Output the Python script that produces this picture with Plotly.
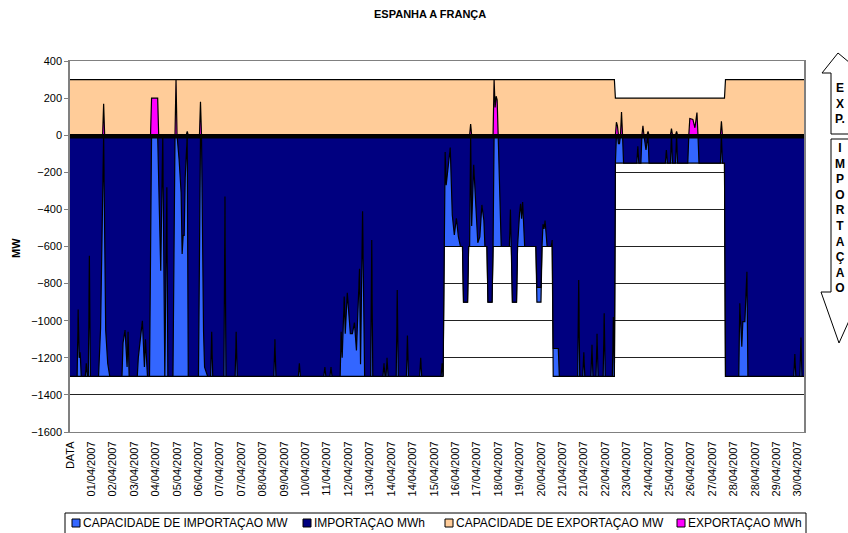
import plotly.graph_objects as go

# hour index 0 = "DATA" header row, then 720 hours of April 2007
tick_labels = [
    "DATA", "01/04/2007", "02/04/2007", "03/04/2007", "04/04/2007", "05/04/2007",
    "06/04/2007", "07/04/2007", "07/04/2007", "08/04/2007", "09/04/2007",
    "10/04/2007", "11/04/2007", "12/04/2007", "13/04/2007", "14/04/2007",
    "14/04/2007", "15/04/2007", "16/04/2007", "17/04/2007", "18/04/2007",
    "19/04/2007", "20/04/2007", "21/04/2007", "21/04/2007", "22/04/2007",
    "23/04/2007", "24/04/2007", "25/04/2007", "26/04/2007", "27/04/2007",
    "28/04/2007", "28/04/2007", "29/04/2007", "30/04/2007",
]
tick_hours = [21 * i for i in range(len(tick_labels))]

# capacidade de importacao (MW), step vertices
cap_imp_hours = [0, 366, 367, 385, 386, 390, 391, 409, 410, 414, 415, 433, 434, 438,
                 439, 457, 458, 462, 463, 473, 474, 534, 535, 642, 643, 720]
cap_imp_mw = [-1300, -1300, -600, -600, -900, -900, -600, -600, -900, -900, -600, -600,
              -900, -900, -600, -600, -900, -900, -600, -600, -1300, -1300, -150, -150,
              -1300, -1300]

# capacidade de exportacao (MW)
cap_exp_hours = [0, 534, 535, 642, 643, 720]
cap_exp_mw = [300, 300, 200, 200, 300, 300]

# importacao (MWh), vertices of the hourly line
imp_hours = [
    0, 7, 8, 9, 10, 11, 15, 16, 17, 18, 19, 20,
    28, 30, 33, 35, 37, 39,
    51, 52, 54, 56, 57, 58,
    66, 67, 71, 73, 74, 76,
    78, 80, 86, 89, 91, 93, 95, 96,
    101, 103, 105, 107, 109, 110, 111, 112, 113, 115, 116,
    126, 128, 129, 131, 132, 135,
    138, 139, 140, 151, 152, 153, 162, 163, 164,
    200, 201, 202, 224, 225, 226, 249, 250, 251, 255, 256, 257,
    265, 266, 267, 269, 270, 272, 275, 277, 279, 281, 284, 285, 287, 289,
    295, 296, 297, 307, 308, 309, 310, 311, 312, 320, 321, 322,
    330, 331, 332, 343, 344, 345, 364, 365, 366,
    367, 368, 369, 371, 373, 375, 377, 379, 381, 383, 385,
    386, 390, 391, 392, 393, 394, 396, 398, 400, 402, 404, 406, 407, 409,
    410, 414, 415, 416, 420, 423,
    431, 432, 433, 434, 438, 439, 441, 442, 443, 444, 446,
    457, 458, 462, 463, 464, 465, 466, 468, 472, 473, 474, 479, 480,
    498, 499, 500, 503, 504, 505, 511, 512, 513, 516, 517, 518,
    523, 524, 525, 532, 533, 534,
    535, 536, 537, 538, 539, 540, 542, 543,
    556, 557, 558, 560, 561, 563, 565, 567, 568,
    584, 585, 586, 589, 590, 591, 594, 595, 596,
    606, 607, 616, 617, 638, 639, 640, 642, 643,
    656, 657, 659, 660, 662, 664, 665,
    710, 711, 712, 716, 717, 718, 720,
]
imp_mw = [
    -1300, -1300, -940, -1200, -1170, -1300, -1300, -1230, -1300, -1300, -650, -1300,
    -1300, -1040, 0, -1050, -1230, -1300,
    -1300, -1120, -1050, -1250, -1060, -1300,
    -1300, -1200, -1000, -1250, -1100, -1300,
    -1300, 0, 0, -730, 0, -1300, -280, -1300,
    -1300, 0, 0, -130, -310, -640, -540, -540, -230, 0, -1300,
    -1300, 0, 0, -1060, -1250, -1300,
    -1300, -1060, -1300, -1300, -330, -1300, -1300, -1060, -1300,
    -1300, -1100, -1300, -1300, -1230, -1300, -1300, -1250, -1300, -1300, -1250, -1300,
    -1300, -1060, -1200, -870, -1070, -850, -1070, -1070, -1010, -1160, -720, -1235, -410, -1300,
    -1300, -565, -1300, -1300, -1230, -1300, -1300, -1200, -1300, -1300, -835, -1300,
    -1300, -1080, -1300, -1300, -1200, -1300, -1300, -1230, -1300,
    -600, -90, -270, -170, -66, -430, -538, -448, -548, -600, -600,
    -900, -900, -600, -600, 0, -490, -160, -370, -580, -548, -376, -460, -600, -600,
    -900, -900, -600, 0, 0, -600,
    -600, -400, -600, -900, -900, -600, -420, -370, -450, -360, -600,
    -600, -820, -820, -600, -480, -505, -460, -600, -600, -565, -1150, -1150, -1300,
    -1300, -780, -1300, -1300, -1170, -1300, -1300, -1130, -1300, -1300, -1070, -1300,
    -1300, -960, -1300, -1300, -980, -1300,
    -150, 0, 0, -45, -45, 0, 0, -150,
    -150, -60, -150, -150, 0, 0, -80, 0, -150,
    -150, -80, -150, -150, 0, -150, -150, 0, -150,
    -150, 0, 0, -150, -150, 0, -150, -150, -1300,
    -1300, -906, -1140, -1005, -1005, -736, -1300,
    -1300, -1180, -1300, -1300, -1090, -1300, -1300,
]

# exportacao (MWh)
exp_hours = [0, 32, 33, 34, 79, 80, 86, 87, 103, 104, 105, 114, 115, 116, 127, 128, 129,
             392, 393, 394, 415, 416, 417, 418, 419, 420,
             535, 536, 537, 538, 540, 541, 542, 561, 562, 563, 566, 567, 568,
             589, 590, 591, 594, 595, 596, 607, 608, 611, 613, 615, 616,
             638, 639, 640, 720]
exp_mw = [0, 0, 170, 0, 0, 200, 200, 0, 0, 300, 0, 0, 20, 0, 0, 180, 0,
          0, 60, 0, 0, 300, 150, 210, 190, 0,
          0, 70, 50, 0, 0, 125, 0, 0, 50, 0, 0, 20, 0,
          0, 35, 0, 0, 20, 0, 0, 90, 85, 40, 122, 0,
          0, 75, 0, 0]

series_names = ["CAPACIDADE DE IMPORTAÇAO MW", "IMPORTAÇAO MWh",
                "CAPACIDADE DE EXPORTAÇAO MW", "EXPORTAÇAO MWh"]
series_colors = ["#3366FF", "#000080", "#FFCC99", "#FF00FF"]

FONT = "Liberation Sans, Arial, sans-serif"

fig = go.Figure()
for xs, ys, name, col in zip([cap_imp_hours, imp_hours, cap_exp_hours, exp_hours],
                             [cap_imp_mw, imp_mw, cap_exp_mw, exp_mw],
                             series_names, series_colors):
    fig.add_trace(go.Scatter(
        x=xs, y=ys, name=name, mode="lines", fill="tozeroy", fillcolor=col,
        line=dict(color="#000", width=1.2), showlegend=False))

# plot area in pixels: x 70..804, y 61..432
def px(x):
    return (x - 70) / 734

def py(y):
    return (432 - y) / 371

shapes = [
    # thick zero line
    dict(type="line", xref="paper", yref="y", x0=0, x1=1, y0=-5, y1=-5,
         line=dict(color="#000", width=4.5), layer="above"),
    # EXP. arrow (runs off the right edge, as in the original)
    dict(type="path", xref="paper", yref="paper", line=dict(color="#000", width=1),
         fillcolor="white",
         path=f"M {px(831)},{py(134)} L {px(831)},{py(73)} L {px(822)},{py(73)} "
              f"L {px(838)},{py(53)} L {px(862)},{py(73)} L {px(856)},{py(73)} "
              f"L {px(856)},{py(134)} Z"),
    # IMPORTACAO arrow
    dict(type="path", xref="paper", yref="paper", line=dict(color="#000", width=1),
         fillcolor="white",
         path=f"M {px(831)},{py(139)} L {px(831)},{py(292)} L {px(821)},{py(292)} "
              f"L {px(839)},{py(343)} L {px(862)},{py(292)} L {px(856)},{py(292)} "
              f"L {px(856)},{py(139)} Z"),
    # legend box
    dict(type="rect", xref="paper", yref="paper", x0=px(65), x1=px(806),
         y0=py(545), y1=py(513), line=dict(color="#000", width=1), fillcolor="white"),
]

def note(text, x, y, size, **kw):
    return dict(text=text, x=px(x), y=py(y), xref="paper", yref="paper",
                xanchor=kw.pop("xanchor", "center"), yanchor="middle",
                showarrow=False, font=dict(size=size, color="#000", family=FONT), **kw)

annotations = [
    note("<b>ESPANHA A FRANÇA</b>", 430, 14, 11),
    note("<b>MW</b>", 16, 248, 11, textangle=-90),
    note("<b>E<br>X<br>P.</b>", 840, 103, 12),
    note("<b>" + "<br>".join("IMPORTAÇAO") + "</b>", 840, 218, 12),
]

# legend built by hand, Excel style (small squares)
legend_x = [72, 303, 445, 677]
for lx, name, col in zip(legend_x, series_names, series_colors):
    shapes.append(dict(type="rect", xref="paper", yref="paper",
                       x0=px(lx), x1=px(lx + 8), y0=py(527), y1=py(519),
                       line=dict(color="#000", width=1), fillcolor=col))
    annotations.append(note(name, lx + 9, 523, 12, xanchor="left"))

fig.update_layout(
    width=848, height=533,
    margin=dict(l=70, r=44, t=61, b=101, autoexpand=False),
    paper_bgcolor="white", plot_bgcolor="white",
    font=dict(family=FONT, size=11, color="#000"),
    showlegend=False,
    xaxis=dict(range=[0, 720], tickvals=tick_hours, ticktext=tick_labels,
               tickangle=-90, showgrid=False, zeroline=False, ticks="",
               showline=True, linecolor="#808080", linewidth=1, mirror=True,
               tickfont=dict(size=11), automargin=False, ticklabelstandoff=4),
    yaxis=dict(range=[-1600, 400], dtick=200, showgrid=True, gridcolor="#222",
               gridwidth=1, zeroline=False, ticks="outside", ticklen=4,
               tickcolor="#808080", showline=True, linecolor="#808080", linewidth=1.5,
               mirror=True, tickfont=dict(size=11), automargin=False),
    shapes=shapes, annotations=annotations,
)

# page body margin off, so the 848x533 figure fills the window exactly
fig.write_html("out.html", config={"displayModeBar": False},
               post_script="document.body.style.margin='0';"
                           "document.body.style.overflow='hidden';")
